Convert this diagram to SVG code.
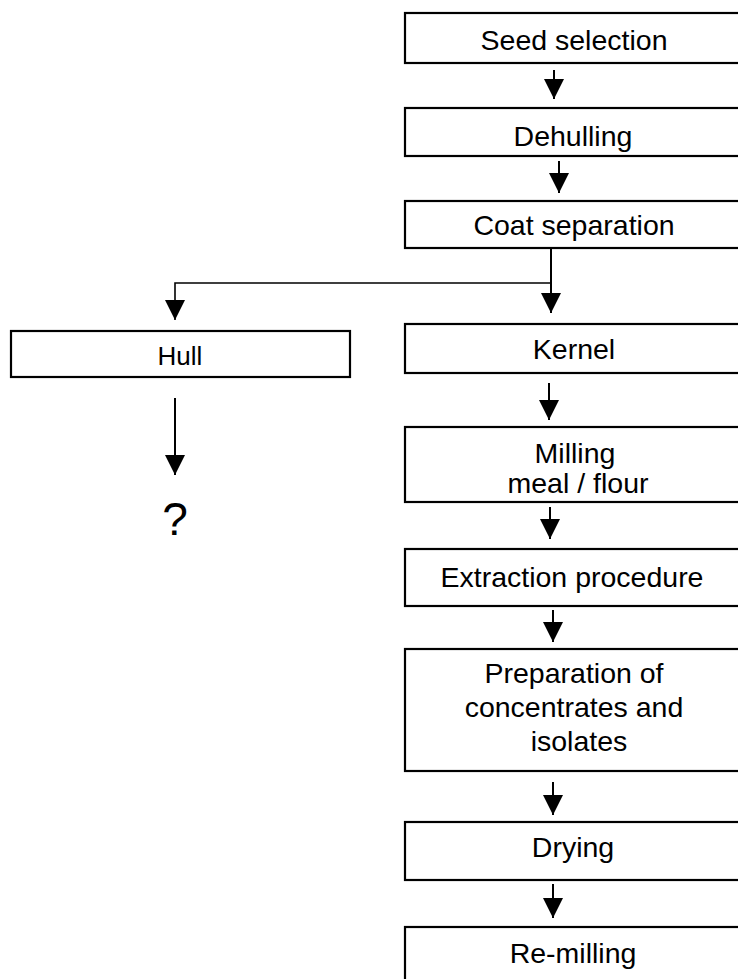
<svg xmlns="http://www.w3.org/2000/svg" width="738" height="979" viewBox="0 0 738 979">
<style>
.box{fill:#fff;stroke:#000;stroke-width:2.2}
.t{font-family:"Liberation Sans",Arial,sans-serif;font-size:28.5px;fill:#000;text-anchor:middle}
.c{fill:none;stroke:#000;stroke-width:2}
</style>
<defs>
<marker id="ah" viewBox="0 0 20 20" refX="20" refY="10" markerWidth="20" markerHeight="20" markerUnits="userSpaceOnUse" orient="auto">
<path d="M0,0 L20,10 L0,20 z" fill="#000"/>
</marker>
</defs>
<rect width="738" height="979" fill="#fff"/>
<g id="seed"><rect class="box" x="405" y="13" width="360" height="50"/><text class="t" x="574" y="50">Seed selection</text></g>
<g id="dehulling"><rect class="box" x="405" y="108" width="360" height="48"/><text class="t" x="573" y="146">Dehulling</text></g>
<g id="coat"><rect class="box" x="405" y="201" width="360" height="47"/><text class="t" x="574" y="235">Coat separation</text></g>
<g id="hull"><rect class="box" x="11" y="331" width="339" height="46"/><text class="t" x="180" y="365" style="font-size:26px">Hull</text></g>
<g id="unknown"><text class="t" x="175" y="535" style="font-size:46px">?</text></g>
<g id="kernel"><rect class="box" x="405" y="324" width="360" height="49"/><text class="t" x="574" y="359">Kernel</text></g>
<g id="milling"><rect class="box" x="405" y="427" width="360" height="75"/><text class="t" x="575" y="463">Milling</text><text class="t" x="578" y="493">meal / flour</text></g>
<g id="extraction"><rect class="box" x="405" y="549" width="360" height="57"/><text class="t" x="572" y="587">Extraction procedure</text></g>
<g id="preparation"><rect class="box" x="405" y="649" width="360" height="122"/><text class="t" x="574" y="683">Preparation of</text><text class="t" x="574" y="717">concentrates and</text><text class="t" x="579" y="751">isolates</text></g>
<g id="drying"><rect class="box" x="405" y="822" width="360" height="58"/><text class="t" x="573" y="857">Drying</text></g>
<g id="remilling"><rect class="box" x="405" y="927" width="360" height="80"/><text class="t" x="573" y="963">Re-milling</text></g>
<g id="connectors">
<line class="c" x1="554" y1="70" x2="554" y2="99" marker-end="url(#ah)"/>
<line class="c" x1="559" y1="161" x2="559" y2="193" marker-end="url(#ah)"/>
<line class="c" x1="551" y1="249" x2="551" y2="313" marker-end="url(#ah)"/>
<polyline class="c" points="551,283 175,283 175,320" marker-end="url(#ah)" style="stroke-width:1.6"/>
<line class="c" x1="175" y1="398" x2="175" y2="475" marker-end="url(#ah)"/>
<line class="c" x1="549" y1="383" x2="549" y2="420" marker-end="url(#ah)"/>
<line class="c" x1="550" y1="507" x2="550" y2="539" marker-end="url(#ah)"/>
<line class="c" x1="553" y1="610" x2="553" y2="642" marker-end="url(#ah)"/>
<line class="c" x1="553" y1="782" x2="553" y2="815" marker-end="url(#ah)"/>
<line class="c" x1="553" y1="884" x2="553" y2="918" marker-end="url(#ah)"/>
</g>
</svg>
